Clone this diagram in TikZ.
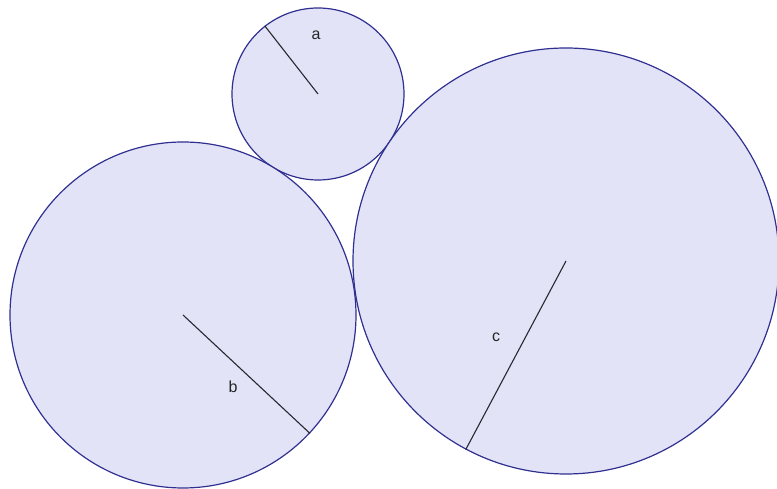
\documentclass[tikz,border=0pt]{standalone}
\usepackage{fontspec}
\setmainfont{Liberation Sans}
\usepackage{xcolor}
\definecolor{DiscFill}{RGB}{226,227,247}
\definecolor{DiscEdge}{RGB}{48,48,145}
\definecolor{RadiusGray}{RGB}{40,40,50}
\tikzset{
  disc/.style={draw=DiscEdge,fill=DiscFill,circle,inner sep=0pt,
    line width=1.2pt},
  radius/.style={draw=RadiusGray,line width=1.1pt},
  radlabel/.style={font=\fontsize{16}{18}\selectfont,text=black!85,inner sep=0pt},
}
\begin{document}
\begin{tikzpicture}[x=1pt,y=1pt]
  \useasboundingbox (0,0) rectangle (777,489);
  \node[disc,minimum size=172pt] (cira) at (318,395) {};
  \node[disc,minimum size=346pt] (cirb) at (183,174) {};
  \node[disc,minimum size=426pt] (circ) at (566,228) {};
  \draw[radius] (cira.center) -- (cira.128.6);
  \draw[radius] (cirb.center) -- (cirb.-43.1);
  \draw[radius] (circ.center) -- (circ.-118.1);
  \node[radlabel] (laba) at (316,454) {a};
  \node[radlabel] (labb) at (233,102) {b};
  \node[radlabel] (labc) at (496,152) {c};
\end{tikzpicture}
\end{document}
